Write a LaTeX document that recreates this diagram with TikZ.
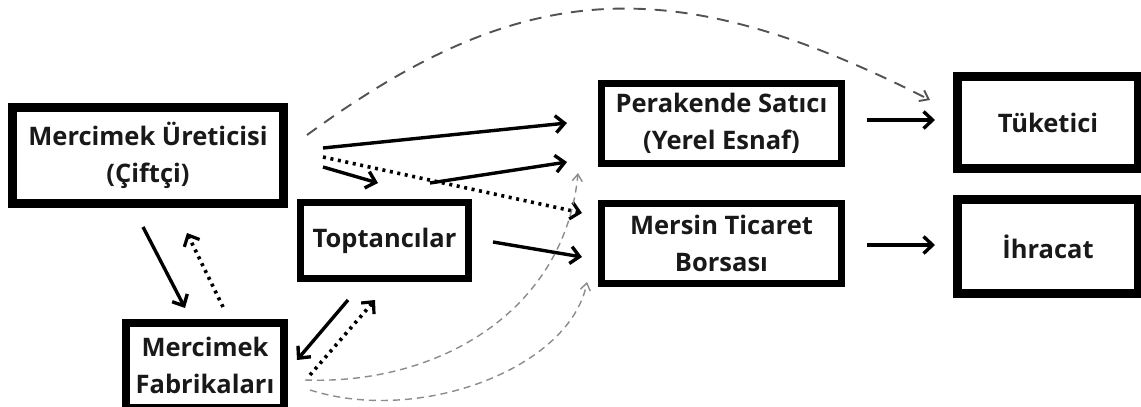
\documentclass[tikz,border=0pt]{standalone}
\usepackage{fontspec}
\setmainfont{Open Sans}
\usetikzlibrary{arrows.meta}
\begin{document}
\begin{tikzpicture}[x=1pt,y=-1pt,
  box/.style={draw=black, fill=white, inner sep=0pt, align=center,
    font=\fontsize{25.5}{37}\selectfont\bfseries, text=black!90},
  sol/.style={line width=3.4pt, -{Straight Barb[length=9pt,width=17pt]}},
  dotl/.style={line width=3.6pt, dash pattern=on 3pt off 4.6pt,
    -{Straight Barb[length=9pt,width=17pt,line width=3.2pt]}},
  bigdash/.style={draw=black!68, line width=1.9pt, dash pattern=on 12pt off 9pt,
    -{Straight Barb[length=8pt,width=12pt]}},
  lightdash/.style={draw=black!45, line width=1.4pt, dash pattern=on 7pt off 5pt,
    -{Straight Barb[length=7pt,width=10pt]}}
]
\clip (0,0) rectangle (1141,407);
\fill[white] (0,0) rectangle (1141,407);

% boxes
\node[box, line width=9pt, minimum width=271pt, minimum height=96pt] (ure) at (148,155.5) {Mercimek Üreticisi\\(Çiftçi)};
\node[box, line width=8pt, minimum width=158pt, minimum height=85pt] (fab) at (205,365.5) {Mercimek\\Fabrikaları};
\node[box, line width=7pt, minimum width=168pt, minimum height=76pt] (top) at (384.5,240.5) {Toptancılar};
\node[box, line width=7pt, minimum width=240pt, minimum height=80pt] (per) at (721.5,123.5) {Perakende Satıcı\\(Yerel Esnaf)};
\node[box, line width=7pt, minimum width=240pt, minimum height=80pt] (mer) at (721.5,243.5) {Mersin Ticaret\\Borsası};
\node[box, line width=9pt, minimum width=181pt, minimum height=92pt] (tuk) at (1048,122.5) {Tüketici};
\node[box, line width=9pt, minimum width=181pt, minimum height=94pt] (ihr) at (1048,246.5) {İhracat};

% connector end points
\coordinate (a1s) at (323,148);   \coordinate (a1e) at (567,123);
\coordinate (a2s) at (323,167);   \coordinate (a2e) at (378,183);
\coordinate (a3s) at (430,183);   \coordinate (a3e) at (567,162);
\coordinate (a4s) at (323,157);   \coordinate (a4e) at (582,213);
\coordinate (a5s) at (493,242);   \coordinate (a5e) at (582,257);
\coordinate (a6s) at (867,120);   \coordinate (a6e) at (935,120);
\coordinate (a7s) at (867,245);   \coordinate (a7e) at (935,245);
\coordinate (a8s) at (143,227);   \coordinate (a8e) at (185,308);
\coordinate (a9s) at (223,307);   \coordinate (a9e) at (187,233);
\coordinate (a10s) at (348,300);  \coordinate (a10e) at (297,360);
\coordinate (a11s) at (310,375);  \coordinate (a11e) at (375,300);
\coordinate (d1s) at (307,135);   \coordinate (d1e) at (930,100);
\coordinate (d2s) at (305,380);   \coordinate (d2e) at (578,173);
\coordinate (d3s) at (310,390);   \coordinate (d3e) at (587,282);

% solid arrows
\draw[sol] (a1s) -- (a1e);
\draw[sol] (a2s) -- (a2e);
\draw[sol] (a3s) -- (a3e);
\draw[sol] (a5s) -- (a5e);
\draw[sol] (a6s) -- (a6e);
\draw[sol] (a7s) -- (a7e);
\draw[sol] (a8s) -- (a8e);
\draw[sol] (a10s) -- (a10e);

% dotted arrows
\draw[dotl] (a4s) -- (a4e);
\draw[dotl] (a9s) -- (a9e);
\draw[dotl] (a11s) -- (a11e);

% dashed curves
\draw[bigdash] (d1s) .. controls (520,-20) and (668,-33) .. (d1e);
\draw[lightdash] (d2s) .. controls (440,385) and (565,310) .. (d2e);
\draw[lightdash] (d3s) .. controls (420,425) and (570,368) .. (d3e);
\end{tikzpicture}
\end{document}
